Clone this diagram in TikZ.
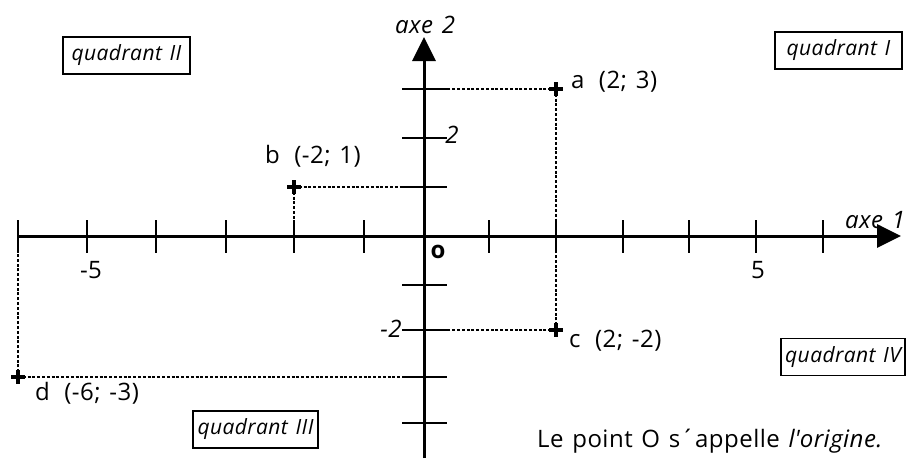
\documentclass[tikz,border=0pt]{standalone}
\usepackage{fontspec}
\setmainfont{Open Sans}[LetterSpace=2, WordSpace=1.3]
\usetikzlibrary{arrows.meta}
\begin{document}
\begin{tikzpicture}[x=1pt,y=-1pt,
 axisline/.style={line width=3pt},
 tickline/.style={line width=2.4pt},
 guide/.style={line width=1.2pt, dash pattern=on 3pt off 1.8pt},
 plusmark/.style={line width=3.2pt},
 quad/.style={draw, line width=1.4pt, font=\fontsize{21}{21}\selectfont\itshape, minimum height=37pt, inner xsep=3pt, inner ysep=0pt},
 lab/.style={font=\fontsize{24}{24}\selectfont, inner sep=0pt, anchor=base west},
 ilab/.style={font=\fontsize{24}{24}\selectfont\itshape, inner sep=0pt, anchor=base west},
]
\useasboundingbox (0,0) rectangle (906,461);
\fill[white] (0,0) rectangle (906,461);
% axes
\coordinate (O) at (424,236);
\coordinate (xs) at (17,236);
\coordinate (xe) at (901,236);
\coordinate (ys) at (424,458);
\coordinate (ye) at (424,37);
\draw[axisline,-{Triangle[length=24pt,width=23pt]}] (xs) -- (xe);
\draw[axisline,-{Triangle[length=24pt,width=23pt]}] (ys) -- (ye);
% ticks
\foreach \x in {18,87,156,226,294,364,489,556,623,689,756,823}
  \draw[tickline] (\x,220) -- (\x,253);
\foreach \y in {89,138,187,285,330,377,423}
  \draw[tickline] (402,\y) -- (447,\y);
% points
\coordinate (A) at (556,89);
\coordinate (B) at (294,187);
\coordinate (C) at (556,330);
\coordinate (D) at (18,377);
\foreach \p in {A,B,C,D}{
  \draw[guide] (\p) -- (\p -| O);
  \draw[guide] (\p) -- (\p |- O);
  \draw[plusmark] (\p) +(-7,0) -- +(7,0) (\p) +(0,-7) -- +(0,7);
}
% point labels
\node[lab] (la) at (571,88) {a\hspace{0.6em}(2; 3)};
\node[lab] (lb) at (265,163) {b\hspace{0.6em}(-2; 1)};
\node[lab] (lc) at (569,347) {c\hspace{0.6em}(2; -2)};
\node[lab] (ld) at (35,400) {d\hspace{0.6em}(-6; -3)};
% axis labels
\node[ilab] (ax2) at (395,33) {axe 2};
\node[ilab] (ax1) at (845,228) {axe 1};
\node[lab, anchor=base] (m5) at (91,278) {-5};
\node[lab, anchor=base] (p5) at (758,278) {5};
\node[lab, anchor=base] (lo) at (438,258) {\bfseries o};
\node[ilab, anchor=base] (y2) at (452,143) {2};
\node[ilab, anchor=base] (ym2) at (391,337) {-2};
% quadrants
\node[quad, minimum width=127pt] (q2) at (126.5,55.5) {quadrant II};
\node[quad, minimum width=127pt] (q1) at (838.5,50.5) {quadrant I};
\node[quad, minimum width=125pt] (q3) at (255.5,429.5) {quadrant III};
\node[quad, minimum width=124pt] (q4) at (843,357) {quadrant IV};
% note
\node[lab] (note) at (537,447) {Le point O s´appelle \textit{l\textquotesingle origine.}};
\end{tikzpicture}
\end{document}
